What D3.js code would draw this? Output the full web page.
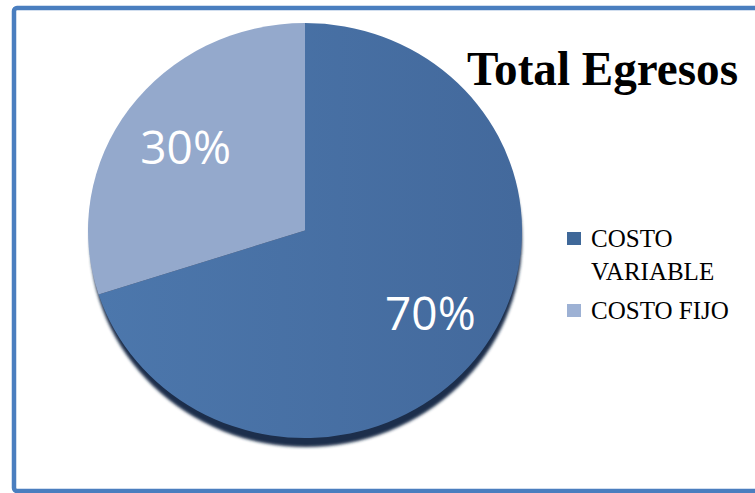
<!DOCTYPE html>
<html>
<head>
<meta charset="utf-8">
<script src="https://cdn.jsdelivr.net/npm/d3@7"></script>
<style>
  html, body { margin: 0; padding: 0; background: #fff; overflow: hidden; }
</style>
</head>
<body>
<div class="chart"></div>
<script>
"use strict";

var categories = ["COSTO VARIABLE", "COSTO FIJO"];
var values = [70, 30];
var legendLines = [["COSTO", "VARIABLE"], ["COSTO FIJO"]];
var title = "Total Egresos";

var width = 755, height = 493;
var cx = 305, cy = 230.5, rx = 217, ry = 207.5;

var color = d3.scaleOrdinal()
    .domain(categories)
    .range(["url(#gradDark)", "#94a9cc"]);
var swatch = d3.scaleOrdinal()
    .domain(categories)
    .range(["#3f6899", "#9db1d4"]);

var svg = d3.select('.chart').append('svg')
    .attr('width', width)
    .attr('height', height)

var defs = svg.append('defs')
var grad = defs.append('linearGradient')
    .attr('id', 'gradDark')
    .attr('x1', '0%').attr('y1', '0%')
    .attr('x2', '100%').attr('y2', '0%')
grad.append('stop').attr('offset', '0%').attr('stop-color', '#4c77ac')
grad.append('stop').attr('offset', '100%').attr('stop-color', '#43699c')

defs.append('filter')
    .attr('id', 'blur')
    .attr('x', '-10%').attr('y', '-10%')
    .attr('width', '120%').attr('height', '120%')
    .append('feGaussianBlur')
    .attr('stdDeviation', 1.6)

// chart frame
svg.append('rect')
    .attr('x', 14)
    .attr('y', 8)
    .attr('width', 800)
    .attr('height', 483)
    .attr('rx', 3)
    .attr('fill', 'none')
    .attr('stroke', '#4a7ebf')
    .attr('stroke-width', 4.5)

var pie = d3.pie().sort(null).value(function(d) { return d; })
var arcs = pie(values)

var arc = d3.arc().innerRadius(0).outerRadius(ry)
var labelArc = d3.arc().innerRadius(ry * 0.68).outerRadius(ry * 0.68)

var g = svg.append('g')
    .attr('transform', 'translate(' + cx + ',' + cy + ')')

// bottom rim / shadow
g.append('ellipse')
    .attr('cx', 1)
    .attr('cy', 9)
    .attr('rx', rx - 1)
    .attr('ry', ry)
    .attr('fill', '#1c2f4c')
    .attr('filter', 'url(#blur)')

var slices = g.append('g')
    .attr('transform', 'scale(' + (rx / ry) + ',1)')

slices.selectAll('path')
    .data(arcs)
    .enter().append('path')
    .attr('d', arc)
    .attr('fill', function(d, i) { return color(categories[i]); })

g.selectAll('text.pct')
    .data(arcs)
    .enter().append('text')
    .attr('class', 'pct')
    .attr('x', function(d) { return labelArc.centroid(d)[0] * rx / ry + (d.index === 0 ? 6 : 0); })
    .attr('y', function(d) { return labelArc.centroid(d)[1]; })
    .attr('dy', '0.36em')
    .attr('text-anchor', 'middle')
    .attr('fill', '#fff')
    .attr('font-family', '"Open Sans", sans-serif')
    .attr('font-size', '46px')
    .text(function(d) { return d.data + '%'; })

svg.append('text')
    .attr('x', 467)
    .attr('y', 85)
    .attr('font-family', '"Liberation Serif", "Times New Roman", serif')
    .attr('font-weight', 'bold')
    .attr('font-size', '48px')
    .attr('textLength', 271)
    .attr('lengthAdjust', 'spacingAndGlyphs')
    .attr('fill', '#000')
    .text(title)

// legend
var legendY = [232, 304];
var legend = svg.append('g')
var items = legend.selectAll('g')
    .data(categories)
    .enter().append('g')
    .attr('transform', function(d, i) { return 'translate(567,' + legendY[i] + ')'; })

items.append('rect')
    .attr('width', 14)
    .attr('height', 13)
    .attr('fill', function(d) { return swatch(d); })

items.append('text')
    .attr('font-family', '"Liberation Serif", "Times New Roman", serif')
    .attr('font-size', '25px')
    .attr('fill', '#000')
    .selectAll('tspan')
    .data(function(d, i) { return legendLines[i]; })
    .enter().append('tspan')
    .attr('x', 24)
    .attr('y', function(d, j) { return 14.5 + j * 33; })
    .text(function(d) { return d; })
</script>
</body>
</html>
